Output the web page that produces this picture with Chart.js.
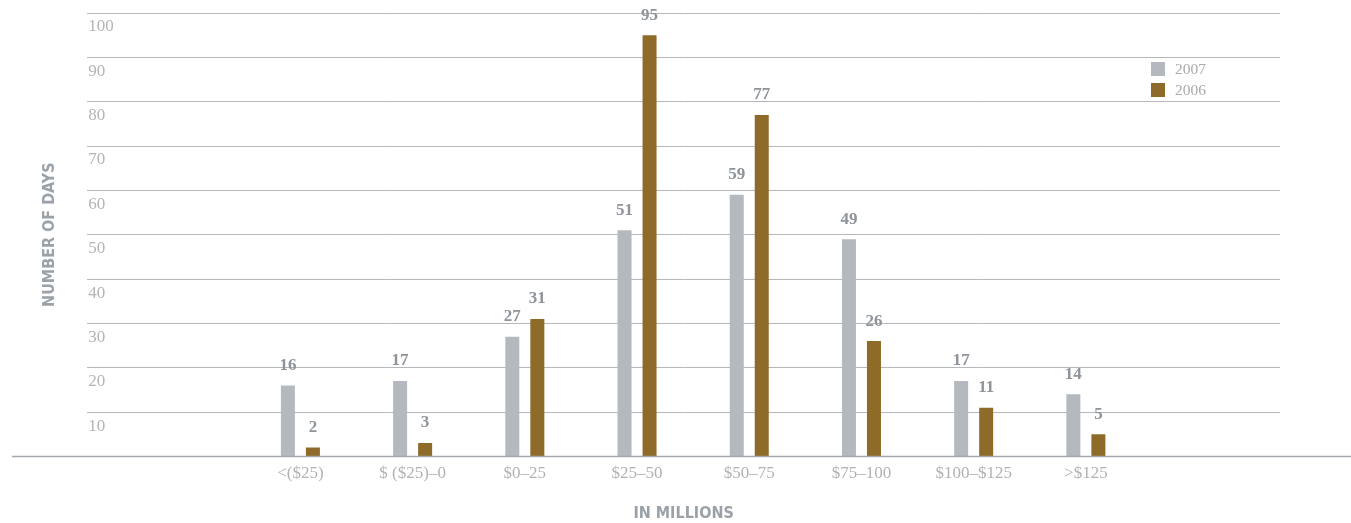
<!DOCTYPE html>
<html>
<head>
<meta charset="utf-8">
<title>Number of days</title>
<script src="https://cdn.jsdelivr.net/npm/chart.js@4.4.1/dist/chart.umd.min.js"></script>
<style>
    html, body { margin: 0; padding: 0; background: #fff; }
    #wrap { width: 1351px; height: 523px; position: relative; }
</style>
</head>
<body>
<div id="wrap"><canvas id="daysChart"></canvas></div>
<script>
const categories = ["<($25)", "$ ($25)\u20130", "$0\u201325", "$25\u201350", "$50\u201375", "$75\u2013100", "$100\u2013$125", ">$125"];
const days2007 = [16, 17, 27, 51, 59, 49, 17, 14];
const days2006 = [2, 3, 31, 95, 77, 26, 11, 5];
const yTicks = [0, 10, 20, 30, 40, 50, 60, 70, 80, 90, 100];

const serif = '"Liberation Serif", "DejaVu Serif", serif';
const narrow = '"Liberation Sans Narrow", "DejaVu Sans Condensed", sans-serif';

// value labels above each bar
const valueLabels = {
    id: "valueLabels",
    afterDatasetsDraw(chart) {
        let ctx = chart.ctx;
        ctx.save();
        ctx.font = "bold 17px " + serif;
        ctx.fillStyle = "#8e949a";
        ctx.textAlign = "center";
        ctx.textBaseline = "middle";
        chart.data.datasets.forEach((ds, d) => {
            chart.getDatasetMeta(d).data.forEach((bar, i) => {
                ctx.fillText(ds.data[i].y, bar.x, bar.y - 20);
            });
        });
        ctx.restore();
    }
};

// long base line under the bars
const baseLine = {
    id: "baseLine",
    afterDatasetsDraw(chart) {
        let ctx = chart.ctx;
        let y = chart.scales.y.getPixelForValue(0);
        ctx.save();
        ctx.strokeStyle = "#a3a8ac";
        ctx.lineWidth = 1.5;
        ctx.beginPath();
        ctx.moveTo(12, y);
        ctx.lineTo(chart.width, y);
        ctx.stroke();
        ctx.restore();
    }
};

// small legend in the upper right
const cornerLegend = {
    id: "cornerLegend",
    afterDraw(chart) {
        let ctx = chart.ctx;
        let x = chart.chartArea.right - 129;
        let y = 62;
        ctx.save();
        ctx.font = "15.5px " + serif;
        ctx.textBaseline = "middle";
        ctx.textAlign = "left";
        chart.data.datasets.forEach((ds, d) => {
            let top = y + d * 21;
            ctx.fillStyle = ds.backgroundColor;
            ctx.fillRect(x, top, 14, 14);
            ctx.fillStyle = "#a7a9ab";
            ctx.fillText(ds.label, x + 24, top + 7.5);
        });
        ctx.restore();
    }
};

new Chart(document.getElementById("daysChart"), {
    type: "bar",
    data: {
        datasets: [{
            label: "2007",
            backgroundColor: "#b3b9bf",
            data: days2007.map((v, i) => ({ x: i, y: v }))
        }, {
            label: "2006",
            backgroundColor: "#8f6b2a",
            data: days2006.map((v, i) => ({ x: i, y: v }))
        }]
    },
    options: {
        responsive: true,
        maintainAspectRatio: false,
        animation: false,
        layout: { padding: { left: 0, right: 71, top: 13, bottom: 0 } },
        categoryPercentage: 0.446,
        barPercentage: 0.56,
        plugins: {
            legend: { display: false },
            tooltip: { enabled: false }
        },
        scales: {
            x: {
                type: "linear",
                offset: false,
                min: -1.9,
                max: 8.73,
                grid: { display: false },
                border: { display: false },
                afterBuildTicks(scale) {
                    scale.ticks = categories.map((c, i) => ({ value: i }));
                },
                ticks: {
                    autoSkip: false,
                    maxRotation: 0,
                    padding: -1,
                    color: "#b0b2b4",
                    font: { family: serif, size: 17 },
                    callback: function (value) {
                        return categories[value] !== undefined ? categories[value] : "";
                    }
                },
                title: {
                    display: true,
                    text: "IN MILLIONS",
                    color: "#9aa1a8",
                    font: { family: narrow, size: 16, weight: "bold" },
                    padding: { top: 21, bottom: 0 }
                }
            },
            y: {
                min: 0,
                max: 100,
                afterBuildTicks(scale) {
                    scale.ticks = yTicks.map(v => ({ value: v }));
                },
                grid: { color: "#b4b8bc", lineWidth: 1, drawTicks: false },
                border: { display: false },
                ticks: {
                    mirror: true,
                    padding: 1,
                    labelOffset: 14,
                    color: "#b5b5b5",
                    font: { family: serif, size: 17 },
                    callback: function (value) {
                        return value === 0 ? "" : value;
                    }
                },
                title: {
                    display: true,
                    text: "NUMBER OF DAYS",
                    color: "#9aa1a8",
                    font: { family: narrow, size: 16, weight: "bold" },
                    padding: { top: 40.4, bottom: 25.6 }
                }
            }
        }
    },
    plugins: [baseLine, valueLabels, cornerLegend]
});
</script>
</body>
</html>
